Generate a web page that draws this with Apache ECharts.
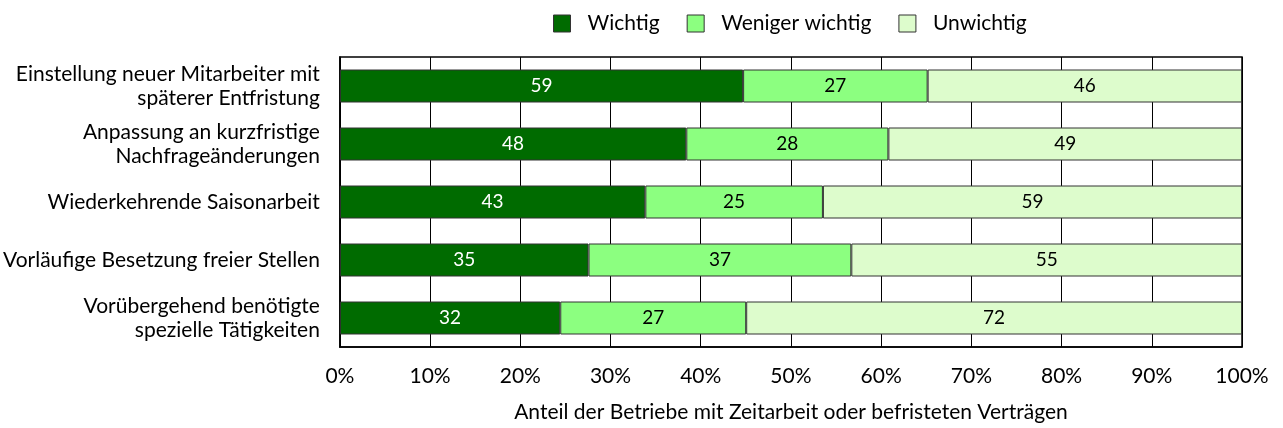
<!DOCTYPE html>
<html>
<head>
<meta charset="utf-8">
<script src="https://cdn.jsdelivr.net/npm/echarts@6/dist/echarts.min.js"></script>
<style>
  html, body { margin: 0; padding: 0; background: #fff; }
  #main { width: 1283px; height: 428px; }
</style>
</head>
<body>
<div id="main"></div>
<script>
// categories (top to bottom)
const categories = [
  "Einstellung neuer Mitarbeiter mit\nspäterer Entfristung",
  "Anpassung an kurzfristige\nNachfrageänderungen",
  "Wiederkehrende Saisonarbeit",
  "Vorläufige Besetzung freier Stellen",
  "Vorübergehend benötigte\nspezielle Tätigkeiten"
];
// counts per answer
const wichtig = [59, 48, 43, 35, 32];
const wenigerWichtig = [27, 28, 25, 37, 27];
const unwichtig = [46, 49, 59, 55, 72];
const seriesNames = ["Wichtig", "Weniger wichtig", "Unwichtig"];
const xTicks = [0, 10, 20, 30, 40, 50, 60, 70, 80, 90, 100];

const allCounts = [wichtig, wenigerWichtig, unwichtig];
const totals = categories.map((c, i) => wichtig[i] + wenigerWichtig[i] + unwichtig[i]);
const colors = ["#006b00", "#8cff80", "#ddfccc"];
const labelColors = ["#ffffff", "#000000", "#000000"];

const myChart = echarts.init(document.getElementById("main"));
const font = "Lato, 'Open Sans', sans-serif";

const series = allCounts.map((counts, s) => ({
  name: seriesNames[s],
  type: "bar",
  stack: "total",
  barWidth: 33,
  itemStyle: { color: colors[s], borderColor: "#333", borderWidth: 1 },
  label: {
    show: true,
    position: "inside",
    color: labelColors[s],
    fontSize: 19,
    fontFamily: font,
    formatter: p => counts[p.dataIndex]
  },
  data: counts.map((v, i) => v / totals[i] * 100)
}));

myChart.setOption({
  animation: false,
  textStyle: { fontFamily: font },
  legend: {
    top: 8,
    left: 548,
    itemWidth: 17,
    itemHeight: 17,
    itemGap: 27,
    icon: "rect",
    textStyle: { fontSize: 21, color: "#000", fontFamily: font, padding: [0, 0, 0, 12] },
    itemStyle: { borderColor: "#333", borderWidth: 1 },
    data: seriesNames
  },
  grid: {
    left: 339, right: 41, top: 57, bottom: 81,
    show: true, borderColor: "#000", borderWidth: 1.5
  },
  xAxis: {
    type: "value",
    min: 0, max: 100, interval: 10,
    name: "Anteil der Betriebe mit Zeitarbeit oder befristeten Verträgen",
    nameLocation: "middle",
    nameGap: 55,
    nameTextStyle: { fontSize: 21, color: "#000", fontFamily: font },
    axisLine: { show: true, lineStyle: { color: "#000", width: 1.5 } },
    axisTick: { show: false },
    axisLabel: {
      fontSize: 21, color: "#000", margin: 19, fontFamily: font,
      formatter: v => xTicks.includes(v) ? v + "%" : ""
    },
    splitLine: { show: true, lineStyle: { color: "#000", width: 1 } }
  },
  yAxis: {
    type: "category",
    inverse: true,
    data: categories,
    axisLine: { show: true, lineStyle: { color: "#000", width: 1.5 } },
    axisTick: { show: false },
    axisLabel: {
      fontSize: 21, color: "#000", margin: 20, align: "right",
      lineHeight: 24, fontFamily: font
    }
  },
  series: series
});

window.addEventListener("resize", () => {
  myChart.resize();
});
</script>
</body>
</html>
